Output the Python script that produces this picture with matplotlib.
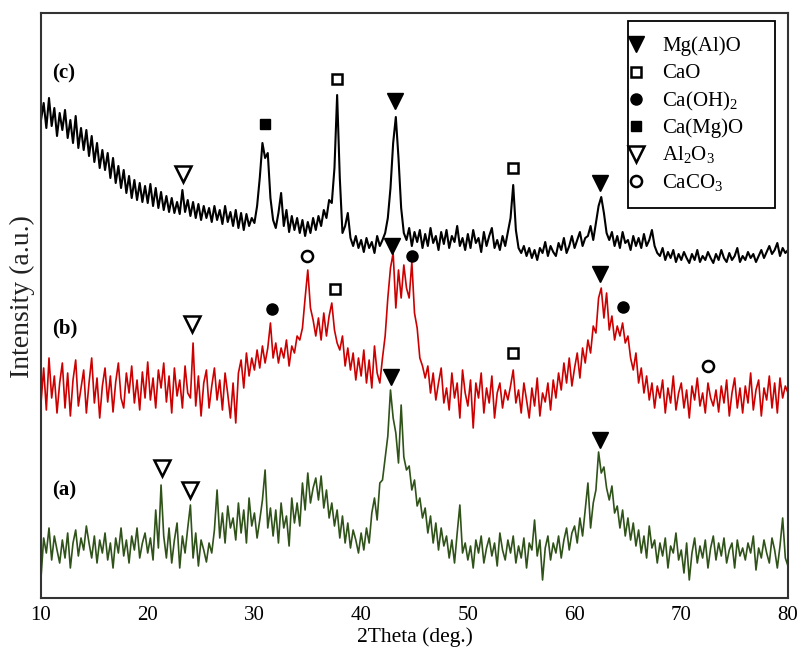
import numpy as np
import matplotlib
matplotlib.use("Agg")
import matplotlib.pyplot as plt
from matplotlib.patches import Rectangle

plt.rcParams['font.family'] = ['Liberation Serif', 'DejaVu Serif']
plt.rcParams['mathtext.fontset'] = 'custom'
plt.rcParams['mathtext.rm'] = 'Liberation Serif'

# 2Theta grid (deg), 0.25 deg step
two_theta = np.arange(0, 281) * 0.25 + 10.0

trace_c = [
    478, 495, 470, 500, 472, 490, 462, 485,
    468, 488, 460, 478, 455, 482, 450, 470,
    448, 468, 442, 462, 436, 455, 430, 448,
    428, 445, 420, 440, 415, 432, 410, 428,
    405, 422, 400, 418, 398, 415, 396, 412,
    395, 414, 392, 410, 390, 406, 388, 402,
    386, 400, 385, 396, 384, 408, 386, 398,
    382, 396, 380, 394, 378, 392, 380, 390,
    376, 392, 378, 388, 374, 392, 376, 386,
    372, 388, 370, 385, 368, 384, 372, 380,
    375, 392, 420, 455, 440, 445, 400, 378,
    370, 385, 405, 372, 388, 366, 382, 368,
    380, 365, 378, 362, 376, 365, 380, 368,
    382, 372, 388, 380, 398, 395, 430, 503,
    420, 365, 372, 385, 360, 352, 362, 350,
    358, 346, 360, 350, 356, 345, 362, 352,
    358, 365, 380, 410, 455, 481, 440, 390,
    365, 358, 370, 352, 366, 356, 368, 350,
    364, 352, 370, 355, 362, 348, 366, 354,
    368, 350, 362, 356, 372, 352, 360, 348,
    364, 350, 368, 355, 360, 346, 366, 352,
    362, 370, 350, 358, 348, 362, 352, 366,
    380, 413, 368, 350, 345, 352, 342, 350,
    340, 348, 338, 350, 345, 356, 342, 352,
    346, 342, 355, 348, 360, 345, 352, 362,
    350, 358, 366, 352, 360, 362, 372, 358,
    375, 392, 401, 385, 365, 358, 366, 352,
    362, 350, 366, 355, 358, 348, 362, 352,
    360, 350, 364, 352, 358, 368, 352, 345,
    342, 350, 338, 346, 340, 348, 336, 344,
    338, 346, 340, 335, 344, 338, 348, 336,
    342, 338, 346, 340, 335, 344, 338, 348,
    340, 336, 345, 338, 342, 350, 336, 342,
    338, 346, 340, 344, 336, 342, 348, 340,
    346, 352, 344, 348, 355, 342, 350, 345,
    348,
]

trace_b = [
    195, 230, 188, 240, 200, 222, 185, 215,
    235, 190, 225, 182, 218, 238, 192, 210,
    228, 185, 215, 240, 195, 220, 180, 212,
    230, 196, 222, 186, 216, 235, 200, 190,
    225, 205, 232, 195, 218, 188, 226, 200,
    236, 198, 220, 190, 228, 210, 235, 196,
    222, 185, 230, 202, 218, 190, 232, 205,
    200, 255, 192, 222, 182, 215, 228, 190,
    212, 230, 198, 218, 188, 225, 204, 180,
    215, 175, 225, 238, 210, 245, 222, 240,
    228, 248, 230, 252, 235, 250, 275, 240,
    255, 235, 250, 240, 258, 232, 252, 245,
    262, 258, 270, 300, 328, 290, 278, 262,
    280, 258, 285, 262, 282, 295, 268, 255,
    248, 262, 232, 250, 228, 245, 218, 240,
    222, 248, 215, 238, 210, 252, 225, 215,
    240, 262, 300, 330, 345, 290, 328, 300,
    333, 310, 300, 336, 285, 270, 240, 232,
    220, 232, 205, 225, 198, 215, 230, 195,
    210, 188, 225, 200, 215, 180, 228, 205,
    192, 218, 170, 215, 200, 225, 185, 210,
    195, 222, 180, 205, 215, 190, 208, 198,
    212, 228, 195, 208, 185, 215, 198, 180,
    210, 192, 220, 182, 205, 196, 215, 188,
    218, 200, 225, 208, 235, 215, 240, 212,
    230, 245, 220, 250, 235, 258, 245, 272,
    265, 300, 310, 280, 305, 268, 282, 258,
    272, 262, 275, 255, 262, 240, 228, 245,
    215, 230, 205, 222, 198, 215, 190, 212,
    200, 218, 185, 210, 195, 222, 188, 205,
    215, 190, 208, 180, 212, 198, 220, 192,
    205, 185, 215, 200, 192, 208, 186, 212,
    195, 218, 182, 205, 220, 190, 210, 185,
    212, 195, 225, 188, 208, 218, 182, 210,
    198, 222, 190, 215, 185, 220, 200, 212,
    205,
]

trace_a = [
    20, 60, 45, 70, 38, 62, 48, 35,
    58, 40, 65, 30, 55, 68, 42, 60,
    48, 72, 55, 40, 62, 35, 58, 45,
    65, 38, 55, 30, 60, 45, 70, 42,
    58, 35, 62, 48, 70, 40, 55, 65,
    45, 60, 38, 88, 50, 113, 62, 40,
    70, 35, 58, 75, 30, 62, 45, 70,
    93, 40, 65, 32, 58, 48, 36, 55,
    45, 68, 108, 60, 85, 55, 92, 70,
    80, 58, 95, 65, 88, 55, 100, 72,
    85, 60, 78, 98, 128, 70, 90, 62,
    88, 55, 95, 70, 82, 52, 100, 75,
    95, 72, 115, 88, 125, 95, 110, 120,
    98, 122, 90, 108, 80, 95, 72, 88,
    60, 82, 55, 75, 50, 68, 58, 45,
    65, 48, 70, 55, 85, 100, 78, 115,
    118, 140, 162, 208, 180, 165, 135, 193,
    141, 128, 132, 108, 118, 92, 100, 80,
    90, 65, 82, 55, 75, 48, 70, 52,
    62, 40, 58, 35, 65, 93, 45, 55,
    38, 52, 30, 58, 45, 62, 35, 50,
    60, 42, 55, 32, 65, 48, 38, 58,
    45, 62, 35, 52, 40, 60, 30, 55,
    48, 78, 42, 58, 18, 50, 62, 38,
    55, 45, 62, 40, 58, 70, 48, 65,
    72, 55, 80, 62, 88, 115, 70, 95,
    108, 146, 125, 131, 110, 98, 112, 85,
    92, 70, 88, 62, 80, 58, 75, 52,
    68, 45, 62, 40, 72, 50, 58, 35,
    55, 42, 60, 30, 52, 45, 65, 38,
    48, 25, 55, 18, 45, 60, 35, 52,
    40, 58, 30, 50, 62, 38, 55, 42,
    60, 35, 48, 55, 30, 58, 42, 50,
    38, 55, 45, 62, 28, 50, 40, 58,
    45, 35, 60, 48, 30, 52, 80, 40,
    32,
]

# Phase legend
phases = ['Mg(Al)O', 'CaO', 'Ca(OH)$_\\mathregular{2}$', 'Ca(Mg)O',
          'Al$_\\mathregular{2}$O$_\\mathregular{3}$', 'CaCO$_\\mathregular{3}$']
phase_keys = ['MgAlO', 'CaO', 'CaOH2', 'CaMgO', 'Al2O3', 'CaCO3']

# Phase markers on the patterns: (phase, 2theta, intensity)
mark_phase = ['CaMgO', 'CaO', 'MgAlO', 'Al2O3', 'CaO', 'MgAlO',
              'Al2O3', 'CaOH2', 'CaCO3', 'CaO', 'MgAlO', 'CaOH2', 'CaO', 'MgAlO', 'CaOH2', 'CaCO3',
              'MgAlO', 'Al2O3', 'Al2O3', 'MgAlO']
mark_x = [31.0, 37.74, 43.18, 23.31, 54.24, 62.39,
          24.15, 31.65, 34.93, 37.55, 42.9, 44.77, 54.24, 62.39, 64.55, 72.51,
          42.8, 21.34, 23.96, 62.39]
mark_y = [474, 519, 497, 424, 430, 415,
          274, 289, 342, 309, 352, 342, 245, 324, 291, 232,
          221, 130, 108, 158]

trace_labels = ['(c)', '(b)', '(a)']
label_x = [11.0, 11.0, 11.0]
label_y = [525, 270, 108]

x_ticks = [10, 20, 30, 40, 50, 60, 70, 80]

styles = {
    'MgAlO': dict(marker='v', ms=11, mfc='black', mec='black', mew=1.0),
    'CaO': dict(marker='s', ms=7.5, mfc='white', mec='black', mew=1.8),
    'CaOH2': dict(marker='o', ms=8, mfc='black', mec='black', mew=1.0),
    'CaMgO': dict(marker='s', ms=7, mfc='black', mec='black', mew=1.0),
    'Al2O3': dict(marker='v', ms=11, mfc='white', mec='black', mew=1.8),
    'CaCO3': dict(marker='o', ms=8, mfc='white', mec='black', mew=1.8),
}

W, H = 797, 653
fig = plt.figure(figsize=(W / 100, H / 100), dpi=100)
ax_l, ax_r, ax_t, ax_b = 41, 788, 13, 598
ax = fig.add_axes([ax_l / W, (H - ax_b) / H, (ax_r - ax_l) / W, (ax_b - ax_t) / H])

ax.plot(two_theta, trace_a, color='#2f5219', lw=1.2)
ax.plot(two_theta, trace_b, color='#cc0000', lw=1.2)
ax.plot(two_theta, trace_c, color='black', lw=1.5)

for p, x, y in zip(mark_phase, mark_x, mark_y):
    ax.plot([x], [y], ls='none', zorder=5, **styles[p])

for t, x, y in zip(trace_labels, label_x, label_y):
    ax.text(x, y, t, fontsize=15, fontweight='bold', ha='left', va='center')

ax.set_xlim(10, 80)
ax.set_ylim(0, 585)


def ax_fx(px):
    return (px - ax_l) / (ax_r - ax_l)


def ax_fy(py):
    return (ax_b - py) / (ax_b - ax_t)


# manual legend box
box_l, box_r, box_t, box_b = 628, 775, 21, 208
ax.add_patch(Rectangle((ax_fx(box_l), ax_fy(box_b)), ax_fx(box_r) - ax_fx(box_l),
                       ax_fy(box_t) - ax_fy(box_b), transform=ax.transAxes,
                       fill=True, facecolor='white', edgecolor='black', lw=1.3, zorder=6))
row_y = [44, 71.5, 99, 126, 153.5, 181]
for k, lab, ry in zip(phase_keys, phases, row_y):
    ax.plot([ax_fx(636)], [ax_fy(ry)], ls='none', transform=ax.transAxes,
            zorder=7, clip_on=False, **styles[k])
    ax.text(ax_fx(662), ax_fy(ry + 7), lab, transform=ax.transAxes, fontsize=15,
            ha='left', va='baseline', zorder=7)

ax.set_xticks(x_ticks)
ax.set_xticklabels([str(v) for v in x_ticks], fontsize=15)
ax.set_yticks([])
ax.tick_params(axis='x', length=0, pad=6)
for s in ax.spines.values():
    s.set_color('#333333')
    s.set_linewidth(1.5)

fig.text(414.5 / W, 1 - 637 / H, '2Theta (deg.)', fontsize=15.5, ha='center', va='center')
fig.text(22 / W, 1 - 297 / H, 'Intensity (a.u.)', fontsize=20, ha='center', va='center',
         rotation=90, color='#222222')

fig.savefig('out.png', dpi=100)
